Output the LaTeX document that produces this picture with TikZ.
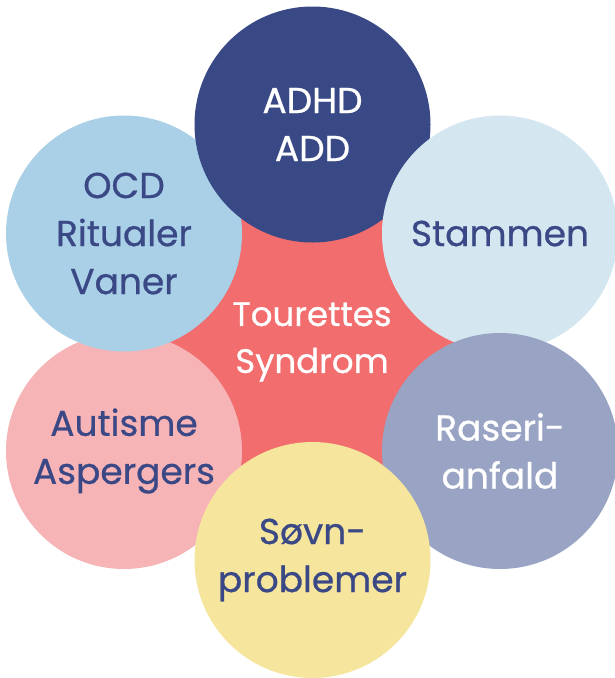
\documentclass[tikz,border=0pt]{standalone}
\usepackage{fontspec}
\setmainfont{Poppins}[FakeBold=0.7]
\definecolor{cred}{HTML}{F16D6E}
\definecolor{cdark}{HTML}{394985}
\definecolor{cocd}{HTML}{A9D0E6}
\definecolor{cstam}{HTML}{D4E7F1}
\definecolor{craseri}{HTML}{99A3C3}
\definecolor{csovn}{HTML}{F5E59D}
\definecolor{caut}{HTML}{F7B4B6}
\definecolor{ctxt}{HTML}{3A4886}
\tikzset{
  bubble/.style={circle, minimum size=236pt, inner sep=0pt, align=center,
    font=\fontsize{36}{48}\selectfont},
  darktext/.style={text=ctxt},
  lighttext/.style={text=white}
}
\begin{document}
\begin{tikzpicture}[x=1pt,y=-1pt]
\useasboundingbox (0,0) rectangle (614,678);
\node[circle, minimum size=360pt, inner sep=0pt, fill=cred] (ts) at (312,342) {};
\node[bubble, fill=caut, darktext] (aut) at (124,451) {Autisme\\Aspergers};
\node[bubble, fill=cocd, darktext] (ocd) at (124,233.5) {OCD\\Ritualer\\Vaner};
\node[bubble, fill=cdark, lighttext] (adhd) at (312.5,124.5) {ADHD\\ADD};
\node[bubble, fill=cstam, darktext] (stam) at (500,233.5) {Stammen};
\node[bubble, fill=craseri, lighttext] (ras) at (500,451) {Raseri-\\anfald};
\node[bubble, fill=csovn, darktext] (sovn) at (312.5,560) {Søvn-\\problemer};
\node[text=white, align=center, font=\fontsize{34}{47}\selectfont] (tstxt) at (ts.center) {Tourettes\\Syndrom};
\end{tikzpicture}
\end{document}
